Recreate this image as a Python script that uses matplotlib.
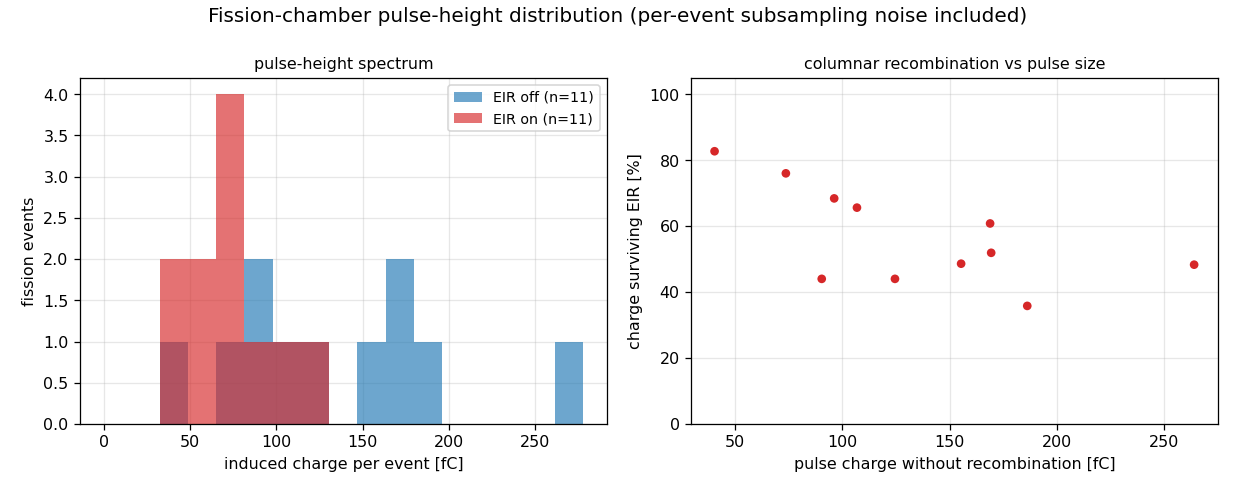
import numpy as np
import matplotlib
matplotlib.use("Agg")
import matplotlib.pyplot as plt

## data
# pulse charge without recombination (EIR off), fC
charge_off = [40.5, 73.7, 90.4, 96.2, 106.8, 124.5, 155.3, 168.8, 169.3, 186.1, 263.8]
# share of charge that survives EIR, %
surviving = [82.7, 76.0, 44.0, 68.4, 65.6, 44.0, 48.6, 60.8, 51.9, 35.8, 48.3]
# induced charge with EIR on, fC
charge_on = [33.5, 56.0, 39.8, 65.8, 70.1, 54.8, 75.5, 102.6, 87.9, 66.6, 127.4]

bin_lo, bin_hi, n_bins = 32.4, 277.8, 15

DPI = 114
fig = plt.figure(figsize=(1235.4 / DPI, 494.4 / DPI), dpi=DPI)
ax1 = fig.add_axes([0.0645, 0.1417, 0.4915 - 0.0645, 0.842 - 0.1417])
ax2 = fig.add_axes([0.559, 0.1417, 0.986 - 0.559, 0.842 - 0.1417])

## histogram
bins = np.linspace(bin_lo, bin_hi, n_bins + 1)
ax1.hist(charge_off, bins=bins, color='tab:blue', alpha=0.65, label=f'EIR off (n={len(charge_off)})')
ax1.hist(charge_on, bins=bins, color='tab:red', alpha=0.65, label=f'EIR on (n={len(charge_on)})')
ax1.set_xlim(-13.9, 291.7)
ax1.set_ylim(0, 4.2)
ax1.set_xlabel('induced charge per event [fC]')
ax1.set_ylabel('fission events')
ax1.set_title('pulse-height spectrum', fontsize=10)
ax1.set_axisbelow(True)
ax1.grid(True, alpha=0.3)
ax1.legend(loc='upper right', fontsize=9)

## scatter
ax2.scatter(charge_off, surviving, color='tab:red', s=30, edgecolors='none')
ax2.set_ylim(0, 105)
ax2.set_xlabel('pulse charge without recombination [fC]')
ax2.set_ylabel('charge surviving EIR [%]')
ax2.set_title('columnar recombination vs pulse size', fontsize=10)
ax2.set_axisbelow(True)
ax2.grid(True, alpha=0.3)

fig.suptitle('Fission-chamber pulse-height distribution (per-event subsampling noise included)', fontsize=12.6, y=0.985)
fig.savefig('out.png', dpi=DPI)
